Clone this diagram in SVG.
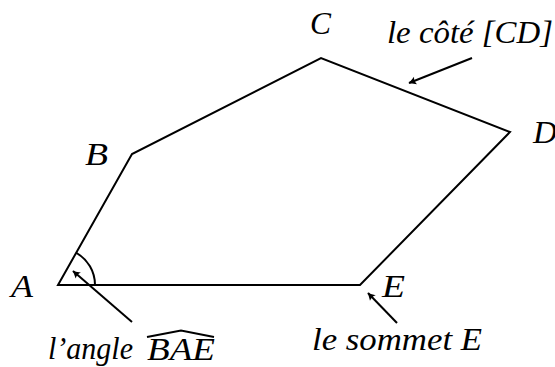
<svg xmlns="http://www.w3.org/2000/svg" width="555" height="367" viewBox="0 0 555 367">
<style>
.t{font-family:"Liberation Serif","Times New Roman",serif;font-style:italic;font-size:31px;fill:#000}
.ln{fill:none;stroke:#000;stroke-width:2;stroke-linejoin:miter;stroke-linecap:butt}
.ar{fill:none;stroke:#000;stroke-width:2}
</style>
<defs>
<marker id="ah" viewBox="-8 -5 10 10" refX="0" refY="0" markerWidth="10" markerHeight="10" markerUnits="userSpaceOnUse" orient="auto">
<path d="M -7 -4 Q -2 -1 0.5 0 Q -2 1 -7 4 Q -5 0 -7 -4 Z" fill="#000"/>
</marker>
</defs>
<rect width="555" height="367" fill="#fff"/>
<g id="pentagon">
<polygon class="ln" points="58,285 132,154 321,58 510,132 360,285"/>
<path id="angle-arc" class="ln" d="M 95 285 A 37 37 0 0 0 76.2 252.8"/>
</g>
<g id="node-A"><text class="t" x="11" y="297" textLength="22" lengthAdjust="spacingAndGlyphs">A</text></g>
<g id="node-B"><text class="t" x="85" y="165" textLength="23" lengthAdjust="spacingAndGlyphs">B</text></g>
<g id="node-C"><text class="t" x="310" y="34" textLength="21" lengthAdjust="spacingAndGlyphs">C</text></g>
<g id="node-D"><text class="t" x="533" y="143" textLength="24" lengthAdjust="spacingAndGlyphs">D</text></g>
<g id="node-E"><text class="t" x="382" y="297" textLength="23" lengthAdjust="spacingAndGlyphs">E</text></g>
<g id="label-angle">
<text class="t" x="48" y="359" font-size="29" textLength="85" lengthAdjust="spacingAndGlyphs">l’angle</text>
<text class="t" x="147" y="360" textLength="68" lengthAdjust="spacingAndGlyphs">BAE</text>
<path class="ar" stroke-width="1.5" d="M 147 337 L 181 330.5 L 214 337"/>
</g>
<g id="label-side"><text class="t" x="387" y="43" textLength="166" lengthAdjust="spacingAndGlyphs">le côté [CD]</text></g>
<g id="label-vertex"><text class="t" x="312" y="350" textLength="170" lengthAdjust="spacingAndGlyphs">le sommet E</text></g>
<g id="connectors">
<line class="ar" x1="132" y1="322" x2="73" y2="271" marker-end="url(#ah)"/>
<line class="ar" x1="472" y1="58" x2="409" y2="83" marker-end="url(#ah)"/>
<line class="ar" x1="397" y1="323" x2="368" y2="293" marker-end="url(#ah)"/>
</g>
</svg>
